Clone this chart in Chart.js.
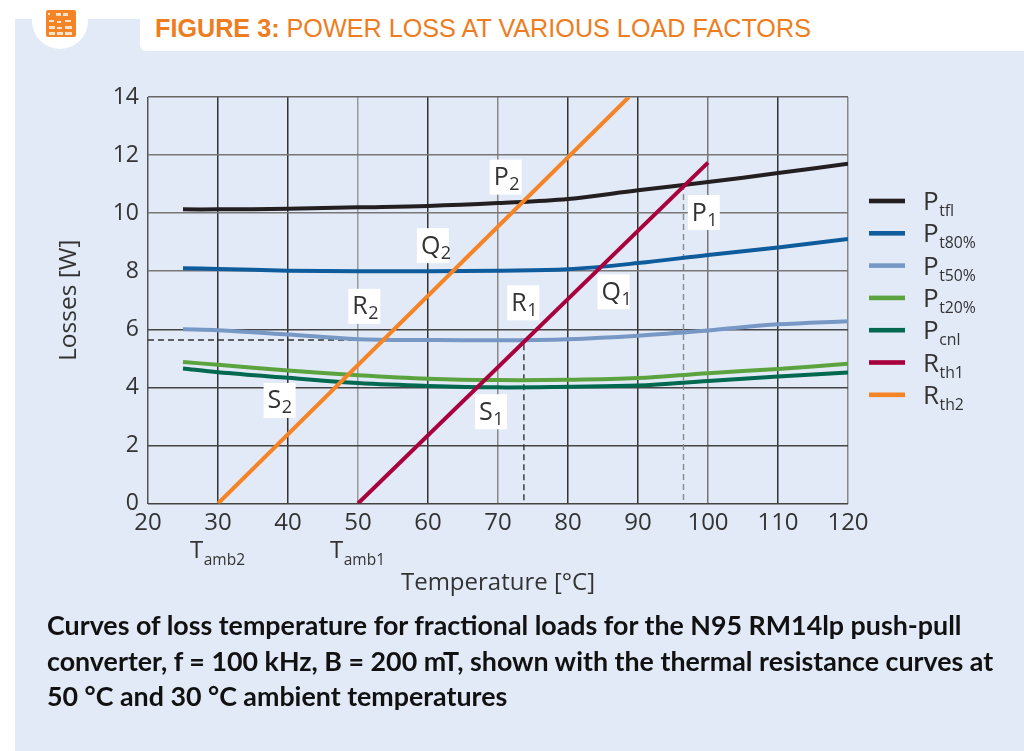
<!DOCTYPE html>
<html><head><meta charset="utf-8">
<script src="https://cdn.jsdelivr.net/npm/chart.js@4/dist/chart.umd.min.js"></script>
<style>
html,body{margin:0;padding:0;width:1024px;height:751px;overflow:hidden;background:#fff}
#bg{position:absolute;left:15px;top:19px;width:1009px;height:732px;background:#E2EAF7}
#band{position:absolute;left:140px;top:0;width:884px;height:51px;background:#fff;border-bottom-left-radius:6px}
#circle{position:absolute;left:32px;top:-7px;width:56px;height:56px;border-radius:50%;background:#fff}
#title{position:absolute;left:155px;top:13px;font:25.2px/30px "Liberation Sans",Arial,sans-serif;color:#EE7D22;white-space:nowrap}
#title b{font-weight:700}
#icon{position:absolute;left:46px;top:10px;width:30px;height:27px}
#caption{position:absolute;left:47px;top:608px;font:700 26.8px/35.5px Lato,sans-serif;color:#111;white-space:nowrap}
#wrap{position:absolute;left:0;top:0;width:1024px;height:751px}
</style></head>
<body>
<div id="bg"></div><div id="band"></div><div id="circle"></div>
<svg id="icon" viewBox="0 0 30 27"><rect width="30" height="27" rx="2" fill="#F58426"/>
<g fill="#FDE3CC"><rect x="2" y="3" width="2" height="2"/><rect x="10" y="3" width="5" height="3"/><rect x="17" y="3" width="5" height="3"/><rect x="3" y="10" width="5" height="2"/><rect x="11" y="11" width="4" height="2"/><rect x="19" y="10" width="6" height="2"/><rect x="3" y="16" width="6" height="3"/><rect x="11" y="17" width="5" height="2"/><rect x="19" y="16" width="7" height="3"/><rect x="3" y="22" width="6" height="3"/><rect x="11" y="22" width="6" height="3"/><rect x="19" y="22" width="7" height="3"/></g></svg>
<div id="title"><b>FIGURE 3:</b> POWER LOSS AT VARIOUS LOAD FACTORS</div>
<div id="wrap"><canvas id="c" width="1024" height="751"></canvas></div>
<div id="caption">Curves of loss temperature for fractional loads for the N95 RM14lp push-pull<br>converter, f = 100 kHz, B = 200 mT, shown with the thermal resistance curves at<br>50 °C and 30 °C ambient temperatures</div>
<script>
const temps  = [25,30,40,50,60,70,80,90,100,110,120];
const pTfl   = [10.13,10.13,10.15,10.2,10.25,10.35,10.49,10.79,11.07,11.38,11.70];
const pT80   = [8.1,8.08,8.02,8.0,8.0,8.02,8.07,8.28,8.56,8.82,9.11];
const pT50   = [6.0,5.97,5.82,5.66,5.63,5.62,5.66,5.78,5.96,6.17,6.28];
const pT20   = [4.87,4.78,4.58,4.42,4.3,4.25,4.26,4.32,4.49,4.63,4.81];
const pCnl   = [4.65,4.52,4.33,4.15,4.05,4.0,4.02,4.06,4.22,4.37,4.51];
const rth1T  = [50,100];
const rth1   = [0,11.74];
const rth2T  = [30,88.7];
const rth2   = [0,14];
const dash1T = [20,73.7,73.7];
const dash1  = [5.63,5.63,0];
const dash2T = [96.5,96.5];
const dash2  = [11,0];
const xTicksMin = 20, xTicksMax = 120, yTicksMin = 0, yTicksMax = 14;
const xGridColors = {20:'#555',30:'#333',40:'#333',50:'#999',60:'#333',70:'#888',80:'#333',90:'#333',100:'#777',110:'#333',120:'#888'};
const yGridColors = {14:'#666',12:'#777',10:'#777',8:'#777',6:'#444',4:'#444',2:'#444',0:'#444'};
const seriesNames = ['tfl','t80%','t50%','t20%','cnl','th1','th2'];
const seriesBase  = ['P','P','P','P','P','R','R'];
const seriesColors= ['#231F20','#0F5C9C','#7798C4','#5BA33E','#00694F','#A8003C','#F58426'];
const noteBase = ['P','Q','R','S','P','Q','R','S'];
const noteSub  = ['2','2','2','2','1','1','1','1'];
const noteX    = [71.1,60.7,50.9,38.8,99.4,86.5,73.6,69];
const noteY    = [11.24,8.88,6.79,3.55,10.02,7.29,6.91,3.16];

const pts=(xs,ys)=>xs.map((x,i)=>({x,y:ys[i]}));
const curve=(d,i)=>({label:seriesBase[i]+seriesNames[i],data:pts(temps,d),borderColor:seriesColors[i],borderWidth:4,pointRadius:0,tension:0.35,borderCapStyle:'butt',order:10-i});
const straight=(xs,ys,i)=>({label:seriesBase[i]+seriesNames[i],data:pts(xs,ys),borderColor:seriesColors[i],borderWidth:4,pointRadius:0,borderCapStyle:'butt',order:i-5});
const dashed=(xs,ys,c,n)=>({label:n,data:pts(xs,ys),borderColor:c,borderWidth:1.4,borderDash:[6,4],pointRadius:0,order:20});

const FONT='"Open Sans",sans-serif', INK='#333';
function sub(ctx,base,s,x,y,size,ssize,dy){
  ctx.textAlign='left';ctx.textBaseline='alphabetic';ctx.fillStyle=INK;
  ctx.font=size+'px '+FONT;ctx.fillText(base,x,y);
  const w=ctx.measureText(base).width;
  ctx.font=ssize+'px '+FONT;ctx.fillText(s,x+w+0.5,y+dy);
}
const notes={id:'notes',afterDatasetsDraw(ch){
  const c=ch.ctx,X=ch.scales.x,Y=ch.scales.y;
  c.save();
  noteBase.forEach((b,i)=>{
    const px=X.getPixelForValue(noteX[i]),py=Y.getPixelForValue(noteY[i]);
    c.fillStyle='#fff';c.fillRect(px-16,py-17.5,32,35);
    sub(c,b,noteSub[i],px-12,py+8,25,18,5);
  });
  sub(c,'T','amb2',X.getPixelForValue(30)-28,558,24,15.5,7);
  sub(c,'T','amb1',X.getPixelForValue(50)-28,558,24,15.5,7);
  seriesNames.forEach((n,i)=>{
    const y=201+i*32.3;
    c.fillStyle=seriesColors[i];c.fillRect(869,y-2.3,36,4.6);
    sub(c,seriesBase[i],n,923,y+9,26,15.8,6);
  });
  c.restore();
}};
new Chart(document.getElementById('c'),{
  type:'line',
  data:{datasets:[
    curve(pTfl,0),curve(pT80,1),curve(pT50,2),curve(pT20,3),curve(pCnl,4),
    straight(rth1T,rth1,5),straight(rth2T,rth2,6),
    dashed(dash1T,dash1,'#333','Operating point 1'),dashed(dash2T,dash2,'#888','Operating point 2')
  ]},
  plugins:[notes],
  options:{
    responsive:false,animation:false,
    layout:{padding:{left:0,top:97,right:176,bottom:0}},
    plugins:{legend:{display:false},tooltip:{enabled:false}},
    scales:{
      x:{type:'linear',min:xTicksMin,max:xTicksMax,
        afterFit(s){s.height=247.5},
        border:{display:false},
        grid:{drawTicks:false,lineWidth:1.5,color:c=>xGridColors[c.tick.value]||'#555'},
        ticks:{stepSize:10,padding:5,maxRotation:0,autoSkip:false,color:INK,font:{family:'"Open Sans"',size:24}},
        title:{display:true,text:'Temperature [°C]',color:INK,font:{family:'"Open Sans"',size:24},padding:{top:0,bottom:153}}
      },
      y:{min:yTicksMin,max:yTicksMax,
        afterFit(s){s.width=148},
        border:{display:false},
        grid:{drawTicks:false,lineWidth:1.5,color:c=>yGridColors[c.tick.value]||'#555'},
        ticks:{stepSize:2,padding:9,color:INK,font:{family:'"Open Sans"',size:23}},
        title:{display:true,text:'Losses [W]',color:INK,font:{family:'"Open Sans"',size:24.5},padding:{top:54,bottom:0}}
      }
    }
  }
});
</script>
</body></html>
